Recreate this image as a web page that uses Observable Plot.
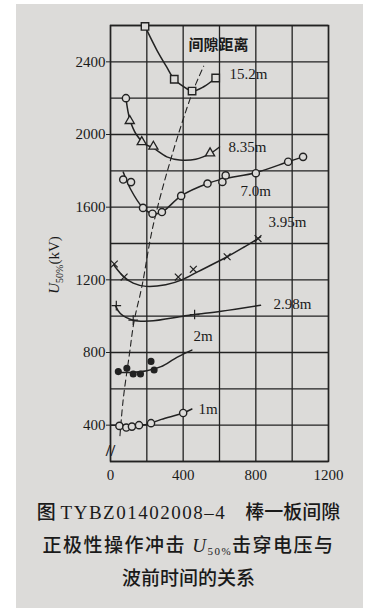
<!DOCTYPE html>
<html><head><meta charset="utf-8">
<script src="https://cdn.jsdelivr.net/npm/d3@7"></script>
<script src="https://cdn.jsdelivr.net/npm/@observablehq/plot@0.6"></script>
<style>
html,body{margin:0;padding:0;background:#fff;width:377px;height:611px;overflow:hidden}
#paper{position:absolute;left:16px;top:4px;width:347px;height:604px;background:#dcdbd9}
#chart{position:absolute;left:0;top:0}
#caption{position:absolute;left:0;top:496px;width:377px;text-align:center;font-family:"Liberation Serif","Noto Sans CJK SC",serif;font-size:19px;color:#1a1a1a;line-height:33px;font-weight:500}
#caption sub{font-size:11px;line-height:0;vertical-align:-3px}
.lat{letter-spacing:1.5px}
.l2{letter-spacing:1.5px}
</style></head><body>
<div id="paper"></div>
<div id="chart"></div>
<div id="caption">
<div>图 <span class="lat">TYBZ01402008–4</span>&nbsp;&nbsp;&nbsp;&nbsp;棒一板间隙</div>
<div class="l2">正极性操作冲击 <i>U</i><sub>50%</sub>击穿电压与</div>
<div>波前时间的关系</div>
</div>
<script>
// axis values
const xTicks = [0, 400, 800, 1200];
const xGrid = [0, 200, 400, 600, 800, 1000, 1200];
const yTicks = [400, 800, 1200, 1600, 2000, 2400];
const yGrid = [200, 400, 600, 800, 1000, 1200, 1400, 1600, 1800, 2000, 2200, 2400, 2600];

// 15.2 m (squares)
const px15 = [190, 351, 449, 579];
const py15 = [2595, 2304, 2239, 2311];
const cx15 = [190, 255, 309, 351, 400, 449, 513, 579];
const cy15 = [2595, 2465, 2372, 2304, 2265, 2239, 2263, 2311];

// 8.35 m (triangles, first point circle)
const px835 = [85, 106, 172, 236, 548];
const py835 = [2200, 2075, 1959, 1934, 1897];
const sym835 = ["circle", "triangle", "triangle", "triangle", "triangle"];
const cx835 = [85, 106, 142, 186, 236, 310, 380, 469, 548, 600];
const cy835 = [2200, 2084, 2000, 1950, 1925, 1877, 1860, 1864, 1895, 1931];

// 7.0 m (circles)
const px70 = [70, 113, 179, 231, 283, 389, 534, 616, 634, 800, 978, 1060];
const py70 = [1752, 1738, 1596, 1564, 1573, 1662, 1730, 1739, 1775, 1787, 1850, 1877];
const cx70 = [70, 110, 179, 231, 283, 389, 534, 625, 800, 978, 1060];
const cy70 = [1793, 1700, 1596, 1564, 1573, 1662, 1730, 1757, 1790, 1850, 1877];

// 3.95 m (x marks)
const px395 = [21, 75, 373, 456, 642, 812];
const py395 = [1287, 1215, 1215, 1258, 1327, 1427];
const cx395 = [18, 75, 125, 196, 304, 393, 482, 642, 731, 826];
const cy395 = [1282, 1215, 1182, 1164, 1173, 1200, 1245, 1327, 1378, 1436];

// 2.98 m (plus marks)
const px298 = [32, 125, 463];
const py298 = [1058, 978, 1009];
const cx298 = [27, 54, 125, 214, 400, 463, 609, 826];
const cy298 = [1058, 1015, 978, 973, 1000, 1009, 1027, 1060];

// 2 m (filled dots)
const px2 = [43, 90, 125, 165, 223, 240];
const py2 = [695, 713, 682, 682, 751, 704];
const cx2 = [35, 104, 200, 278, 350, 400, 448];
const cy2 = [691, 690, 700, 722, 764, 791, 813];

// 1 m (open circles)
const px1 = [49, 87, 118, 157, 223, 400];
const py1 = [396, 387, 392, 400, 411, 467];
const cx1 = [0, 100, 191, 280, 400, 448];
const cy1 = [400, 400, 402, 432, 467, 489];

// dashed locus
const dx = [52, 70, 104, 130, 173, 233, 333, 452, 513];
const dy = [342, 542, 790, 973, 1164, 1491, 1868, 2234, 2376];

// labels
const labelText = ["间隙距离", "15.2m", "8.35m", "7.0m", "3.95m", "2.98m", "2m", "1m"];
const labelX = [429, 655, 650, 716, 870, 897, 457, 484];
const labelY = [2490, 2330, 1928, 1686, 1516, 1064, 888, 486];

const BG = "#dcdbd9", INK = "#222";
const zip = (xs, ys, extra) => xs.map((x, i) => ({x, y: ys[i], s: extra ? extra[i] : null}));
const curve = (xs, ys) => Plot.line(zip(xs, ys), {x: "x", y: "y", curve: "catmull-rom", stroke: INK, strokeWidth: 1.5});
const labels = labelText.map((t, i) => ({t, x: labelX[i], y: labelY[i]}));
const pts835 = zip(px835, py835, sym835);
const fmt = d3.format("d");

const svg = Plot.plot({
  width: 377, height: 491,
  marginLeft: 110, marginRight: 49, marginTop: 25, marginBottom: 30,
  x: {domain: [0, 1200]},
  y: {domain: [200, 2600]},
  style: {background: "transparent", fontFamily: "'Liberation Serif', serif", fontSize: "15px", color: "#1a1a1a"},
  marks: [
    Plot.gridX(xGrid, {stroke: INK, strokeOpacity: 1, strokeWidth: 1.3}),
    Plot.gridY(yGrid, {stroke: INK, strokeOpacity: 1, strokeWidth: 1.3}),
    Plot.frame({stroke: INK, strokeWidth: 1.5}),
    Plot.axisX(xTicks, {tickSize: 0, tickPadding: 8, label: null, fontSize: 15, tickFormat: fmt}),
    Plot.axisY(yTicks, {tickSize: 4, tickPadding: 1, label: null, fontSize: 15, stroke: INK, tickFormat: fmt}),
    Plot.line(zip(dx, dy), {x: "x", y: "y", curve: "catmull-rom", stroke: INK, strokeWidth: 1.1, strokeDasharray: "6,4"}),
    curve(cx15, cy15), curve(cx835, cy835), curve(cx70, cy70), curve(cx395, cy395),
    curve(cx298, cy298), curve(cx2, cy2), curve(cx1, cy1),
    Plot.dot(zip(px15, py15), {x: "x", y: "y", symbol: "square", r: 4.2, fill: BG, stroke: INK, strokeWidth: 1.4}),
    Plot.dot(pts835.filter(d => d.s === "triangle"), {x: "x", y: "y", symbol: "triangle", r: 3.4, fill: BG, stroke: INK, strokeWidth: 1.3}),
    Plot.dot(pts835.filter(d => d.s === "circle"), {x: "x", y: "y", r: 3.6, fill: BG, stroke: INK, strokeWidth: 1.4}),
    Plot.dot(zip(px70, py70), {x: "x", y: "y", r: 3.6, fill: BG, stroke: INK, strokeWidth: 1.4}),
    Plot.dot(zip(px395, py395), {x: "x", y: "y", symbol: "times", r: 3.2, stroke: INK, strokeWidth: 1.2}),
    Plot.dot(zip(px298, py298), {x: "x", y: "y", symbol: "plus", r: 3.2, stroke: INK, strokeWidth: 1.2}),
    Plot.dot(zip(px2, py2), {x: "x", y: "y", r: 2.8, fill: INK, stroke: INK}),
    Plot.dot(zip(px1, py1), {x: "x", y: "y", r: 3.6, fill: BG, stroke: INK, strokeWidth: 1.4}),
    Plot.text(labels.filter(d => d.t !== "间隙距离"), {x: "x", y: "y", text: "t", textAnchor: "start", fontSize: 15, fill: "#1a1a1a"}),
    Plot.text(labels.filter(d => d.t === "间隙距离"), {x: "x", y: "y", text: "t", textAnchor: "start", fontSize: 15, fill: "#1a1a1a", fontFamily: "'Noto Sans CJK SC'", fontWeight: 600}),
    Plot.text([{x: 0, y: 262}], {x: "x", y: "y", text: () => "//", fontSize: 17, fill: INK, fontWeight: "bold"})
  ]
});

const lab = d3.select(svg).append("text")
  .attr("transform", "translate(59,265) rotate(-90)")
  .attr("text-anchor", "middle")
  .attr("font-family", "'Liberation Serif', serif")
  .attr("font-size", 15)
  .attr("fill", "#1a1a1a");
lab.append("tspan").attr("font-style", "italic").text("U");
lab.append("tspan").attr("font-size", 10).attr("dy", 4).text("50%");
lab.append("tspan").attr("dy", -4).text("(kV)");

document.getElementById("chart").appendChild(svg);
</script>
</body></html>
